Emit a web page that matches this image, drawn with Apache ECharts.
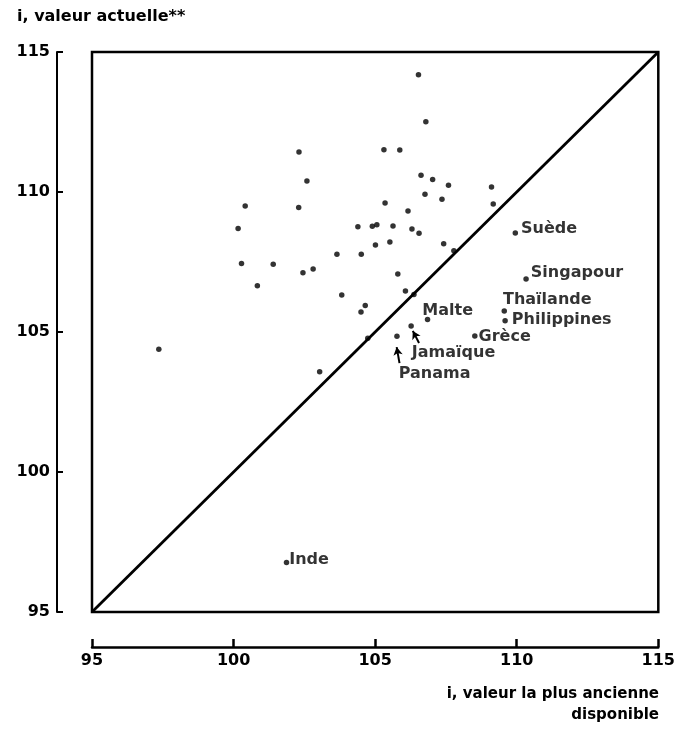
<!DOCTYPE html>
<html>
<head>
<meta charset="utf-8">
<script src="https://cdn.jsdelivr.net/npm/echarts@6/dist/echarts.min.js"></script>
<style>
  html, body { margin: 0; padding: 0; background: #fff; }
  #chart { width: 678px; height: 731px; }
</style>
</head>
<body>
<div id="chart"></div>
<script>
// Unlabelled countries: earliest available value (x) vs current value (y)
const otherX = [97.36, 106.53, 106.79, 102.31, 105.31, 105.87, 102.59, 106.62, 107.03, 107.59,
  109.11, 100.41, 102.30, 106.76, 107.36, 109.17, 105.35, 106.16, 100.16, 104.39,
  104.90, 105.06, 105.63, 106.30, 106.55, 105.01, 105.52, 107.42, 107.78, 103.65,
  104.51, 100.28, 101.40, 102.45, 102.81, 105.80, 100.84, 103.82, 106.07, 106.37,
  104.65, 104.50, 104.74, 103.04];
const otherY = [104.38, 114.19, 112.51, 111.43, 111.51, 111.50, 110.39, 110.60, 110.45, 110.24,
  110.18, 109.50, 109.45, 109.92, 109.74, 109.57, 109.61, 109.32, 108.70, 108.76,
  108.78, 108.83, 108.79, 108.68, 108.53, 108.11, 108.21, 108.15, 107.90, 107.78,
  107.78, 107.45, 107.42, 107.12, 107.25, 107.07, 106.65, 106.32, 106.46, 106.34,
  105.95, 105.71, 104.78, 103.58];

// Labelled countries
const namedCountries = ['Suède', 'Singapour', 'Thaïlande', 'Philippines', 'Grèce', 'Malte', 'Jamaïque', 'Panama', 'Inde'];
const namedX = [109.95, 110.33, 109.56, 109.59, 108.52, 106.85, 106.27, 105.77, 101.87];
const namedY = [108.54, 106.89, 105.75, 105.40, 104.86, 105.45, 105.21, 104.85, 96.77];

// Equality line i(current) = i(earliest)
const diagonal = [95, 115];

// Axis ticks
const axisTicks = [95, 100, 105, 110, 115];

// Arrows pointing from label to dot (start x, start y, end x, end y)
const arrowPanama = [105.86, 103.89, 105.76, 104.46];
const arrowJamaique = [106.55, 104.61, 106.33, 105.04];

const FONT = 'DejaVu Sans';
const labelOffsets = {
  'Suède': [3, -4],
  'Singapour': [2, -6],
  'Thaïlande': [-4, -11],
  'Philippines': [4, -1],
  'Grèce': [1, 1],
  'Malte': [-8, -9],
  'Jamaïque': [-2, 27],
  'Panama': [-1, 38],
  'Inde': [0, -3]
};

const chart = echarts.init(document.getElementById('chart'), null, { renderer: 'canvas' });

const textBase = { fontFamily: FONT, fontWeight: 'bold', fontSize: 16, color: '#000' };

const option = {
  backgroundColor: '#fff',
  animation: false,
  title: [
    {
      text: 'i, valeur actuelle**',
      left: 12, top: 4,
      textStyle: Object.assign({}, textBase)
    },
    {
      text: 'i, valeur la plus ancienne',
      right: 14, top: 682,
      textStyle: Object.assign({}, textBase, { fontSize: 15 })
    },
    {
      text: 'disponible',
      right: 14, top: 703,
      textStyle: Object.assign({}, textBase, { fontSize: 15 })
    }
  ],
  grid: {
    left: 92, right: 19, top: 52, bottom: 119,
    show: true, borderColor: '#000', borderWidth: 2.5, backgroundColor: 'transparent'
  },
  xAxis: {
    type: 'value',
    min: axisTicks[0], max: axisTicks[axisTicks.length - 1], interval: 5,
    offset: 35,
    axisLine: { show: true, onZero: false, lineStyle: { color: '#000', width: 2.5 } },
    axisTick: { show: true, inside: true, length: 8, lineStyle: { color: '#000', width: 2.5 } },
    axisLabel: Object.assign({ margin: 6 }, textBase),
    splitLine: { show: false }
  },
  yAxis: {
    type: 'value',
    min: axisTicks[0], max: axisTicks[axisTicks.length - 1], interval: 5,
    offset: 35,
    axisLine: { show: true, onZero: false, lineStyle: { color: '#000', width: 2 } },
    axisTick: { show: true, inside: true, length: 6, lineStyle: { color: '#000', width: 2 } },
    axisLabel: Object.assign({ margin: 7, verticalAlign: 'middle', padding: [0, 0, 10, 0] }, textBase),
    splitLine: { show: false }
  },
  series: [
    {
      type: 'line',
      data: [[diagonal[0], diagonal[0]], [diagonal[1], diagonal[1]]],
      symbol: 'none',
      lineStyle: { color: '#000', width: 2.8 },
      silent: true,
      z: 2
    },
    {
      type: 'scatter',
      data: otherX.map((x, i) => [x, otherY[i]]),
      symbol: 'circle',
      symbolSize: 5.5,
      itemStyle: { color: '#000' },
      z: 3
    },
    {
      type: 'scatter',
      data: namedCountries.map((n, i) => ({
        name: n,
        value: [namedX[i], namedY[i]],
        label: {
          show: true,
          position: 'right',
          distance: 0,
          offset: labelOffsets[n],
          formatter: n
        }
      })),
      symbol: 'circle',
      symbolSize: 5.5,
      itemStyle: { color: '#000' },
      label: Object.assign({ show: true }, textBase),
      markLine: {
        silent: true,
        symbol: ['none', 'arrow'],
        symbolSize: [7, 8],
        label: { show: false },
        lineStyle: { color: '#000', width: 2, type: 'solid' },
        data: [
          [{ coord: [arrowPanama[0], arrowPanama[1]] }, { coord: [arrowPanama[2], arrowPanama[3]] }],
          [{ coord: [arrowJamaique[0], arrowJamaique[1]] }, { coord: [arrowJamaique[2], arrowJamaique[3]] }]
        ]
      },
      z: 4
    }
  ]
};

chart.setOption(option);
</script>
</body>
</html>
